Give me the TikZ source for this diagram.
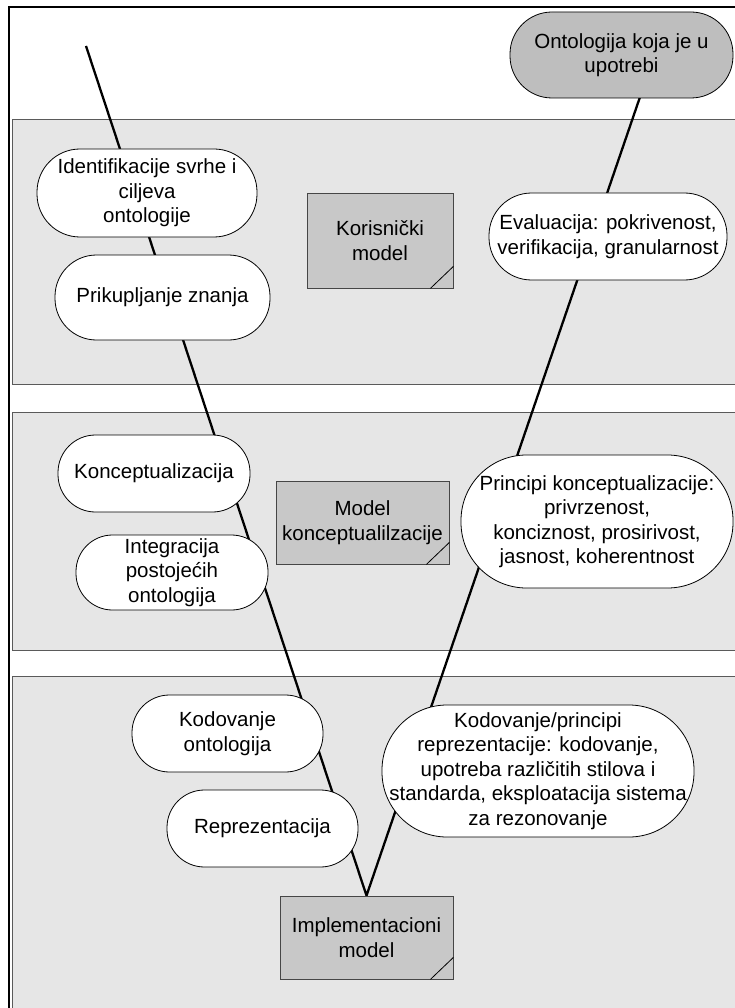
\documentclass[tikz,border=0pt]{standalone}
\usepackage{fontspec}
\setmainfont{Liberation Sans}
\pgfdeclarelayer{bg}
\pgfsetlayers{bg,main}
\definecolor{bandgray}{RGB}{230,230,230}
\definecolor{bandline}{RGB}{90,90,90}
\definecolor{boxgray}{RGB}{200,200,200}
\definecolor{usegray}{RGB}{190,190,190}
\definecolor{boxline}{RGB}{70,70,70}
\newcommand\txtfont{\fontsize{20.5pt}{24.5pt}\selectfont}
\tikzset{
  band/.style={fill=bandgray, draw=bandline, line width=0.8pt},
  frame/.style={draw=black, line width=2.2pt},
  pill/.style n args={2}{draw=black, line width=0.8pt, fill=white, inner sep=0pt,
    align=center, font=\txtfont, minimum width=#1, minimum height=#2, rounded corners=#2/2-1},
  usenode/.style n args={2}{pill={#1}{#2}, fill=usegray},
  modelbox/.style n args={2}{draw=boxline, fill=boxgray, line width=0.8pt, inner sep=0pt,
    align=center, font=\txtfont, minimum width=#1, minimum height=#2},
  fold/.style={draw=black, line width=0.8pt},
  vline/.style={draw=black, line width=2.3pt, line join=miter}
}
\begin{document}
\begin{tikzpicture}[x=1pt,y=-1pt]
\useasboundingbox (0,0) rectangle (735,1008);
% nodes
\node[usenode={223}{86}] (use) at (621.5,55) {Ontologija koja je u\\upotrebi};
\node[pill={220}{88}] (ident) at (147,193) {Identifikacije svrhe i\\ciljeva\\ontologije};
\node[pill={215}{85}] (prik) at (162.5,297.5) {Prikupljanje znanja};
\node[modelbox={146}{95}] (kor) at (380,240.5) {Korisnički\\model};
\node[pill={238}{87}] (eval) at (608,236.5) {Evaluacija: pokrivenost,\\verifikacija, granularnost};
\node[pill={192}{77}] (konc) at (154,473.5) {Konceptualizacija};
\node[pill={192}{75}] (integ) at (172,572.5) {Integracija\\postojećih\\ontologija};
\node[modelbox={173}{83}] (mkon) at (362.5,522.5) {Model\\konceptualilzacije};
\node[pill={272}{133}] (princ) at (597,521.5) {Principi konceptualizacije:\\privrzenost,\\konciznost, prosirivost,\\jasnost, koherentnost};
\node[pill={191}{77}] (kod) at (227.5,733.5) {Kodovanje\\ontologija};
\node[pill={191}{77}] (repr) at (262.5,828.5) {Reprezentacija};
\node[pill={312}{132}] (kodpr) at (538,771) {Kodovanje/principi\\reprezentacije: kodovanje,\\upotreba različitih stilova i\\standarda, eksploatacija sistema\\za rezonovanje};
\node[modelbox={173}{83}] (impl) at (366.5,937.5) {Implementacioni\\model};
% folded corners
\foreach \b in {kor,mkon,impl}{
  \draw[fold] ([xshift=-23pt]\b.south east) -- ([yshift=22pt]\b.south east);
}
\coordinate (ltop) at (86,46);
\coordinate (rtop) at (640,97);
\begin{pgfonlayer}{bg}
  \draw[band] (12,119) rectangle (760,384);
  \draw[band] (12,412) rectangle (760,650);
  \draw[band] (12,676) rectangle (760,1030);
  \draw[frame] (9,7) rectangle (765,1040);
  \draw[vline] (ltop) -- (impl.north) -- (rtop);
\end{pgfonlayer}
\end{tikzpicture}
\end{document}
